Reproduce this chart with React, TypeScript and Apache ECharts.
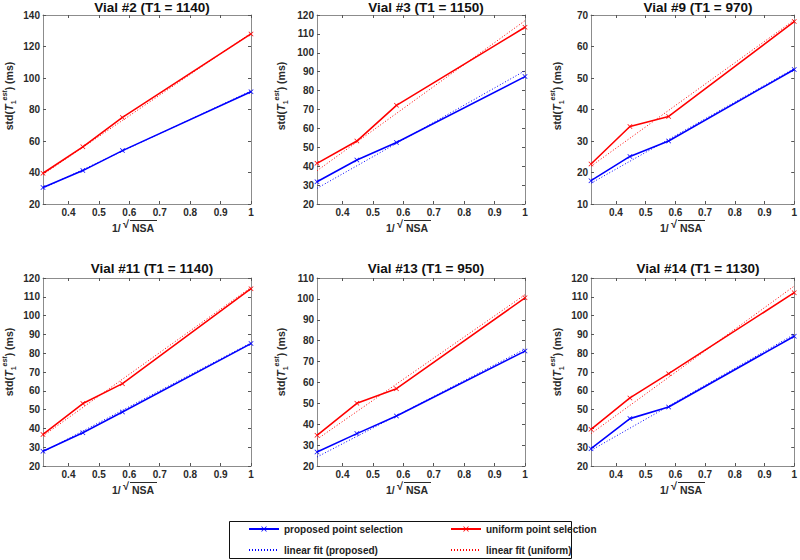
import React, { useEffect, useRef } from 'react';
import * as echarts from 'echarts';

const X = [0.3162, 0.4472, 0.5774, 1];
const TITLES = [
  'Vial #2 (T1 = 1140)',
  'Vial #3 (T1 = 1150)',
  'Vial #9 (T1 = 970)',
  'Vial #11 (T1 = 1140)',
  'Vial #13 (T1 = 950)',
  'Vial #14 (T1 = 1130)',
];
const PROPOSED = [
  [30.5, 41.2, 53.9, 91.3],
  [31.8, 43.3, 52.5, 87.4],
  [17.4, 25.1, 30.0, 52.7],
  [27.8, 37.7, 48.7, 85.1],
  [26.7, 35.5, 43.9, 75.0],
  [29.2, 45.2, 51.4, 89.0],
];
const UNIFORM = [
  [39.5, 56.3, 75.0, 128.0],
  [41.5, 53.3, 72.2, 113.5],
  [22.7, 34.6, 37.8, 67.9],
  [36.8, 53.2, 63.8, 114.3],
  [34.7, 50.0, 57.0, 100.5],
  [39.5, 56.2, 69.1, 112.2],
];
const FIT_PROPOSED = [
  [30.0, 91.8],
  [28.3, 90.5],
  [16.6, 53.0],
  [27.5, 85.5],
  [24.3, 76.0],
  [28.3, 90.0],
];
const FIT_UNIFORM = [
  [38.8, 128.5],
  [37.6, 117.0],
  [22.0, 68.4],
  [36.0, 115.0],
  [32.8, 102.0],
  [37.2, 115.7],
];
const Y_MIN = [20, 20, 10, 20, 20, 20];
const Y_MAX = [140, 120, 70, 120, 110, 120];
const Y_STEP = [20, 10, 10, 10, 10, 10];
const X_TICKS = [0.4, 0.5, 0.6, 0.7, 0.8, 0.9, 1];

const NAME_P = 'proposed point selection';
const NAME_U = 'uniform point selection';
const NAME_FP = 'linear fit (proposed)';
const NAME_FU = 'linear fit (uniform)';

const BLUE = '#0000ff';
const RED = '#ff0000';
const FONT = '"Liberation Sans", Arial, Helvetica, sans-serif';
const AXIS_GRAY = '#8c8c8c';
const TEXT_COLOR = '#2a2a2a';

const COL_LEFT = [43, 317, 591];
const COL_W = 208;
const ROW_TOP = [15, 278];
const ROW_H = [189, 188];
const TITLE_X = [152, 426, 698];
const TITLE_Y = [7, 268];
const YLAB_X = [9, 281, 557];
const YLAB_Y = [96, 362];

const XSYM = 'path://M0,1L1,0L5,4L9,0L10,1L6,5L10,9L9,10L5,6L1,10L0,9L4,5Z';

function buildOption() {
  const grid: any[] = [];
  const xAxis: any[] = [];
  const yAxis: any[] = [];
  const series: any[] = [];
  const graphic: any[] = [];

  for (let i = 0; i < 6; i++) {
    const r = Math.floor(i / 3);
    const c = i % 3;
    const left = COL_LEFT[c];
    const top = ROW_TOP[r];
    const h = ROW_H[r];
    const bottom = top + h;
    grid.push({ left, top, width: COL_W, height: h, containLabel: false, show: false });

    const baseX = {
      type: 'value',
      gridIndex: i,
      min: X[0],
      max: 1,
      splitLine: { show: false },
      axisLine: { show: true, onZero: false, lineStyle: { color: AXIS_GRAY, width: 1 } },
      axisTick: { show: true, inside: true, length: 3, customValues: X_TICKS, lineStyle: { color: '#555' } },
    };
    xAxis.push({
      ...baseX,
      position: 'bottom',
      axisLabel: {
        show: true,
        customValues: X_TICKS,
        formatter: (v: number) => String(v),
        fontSize: 10,
        fontWeight: 'bold',
        fontFamily: FONT,
        color: TEXT_COLOR,
        margin: 3,
      },
    });
    xAxis.push({ ...baseX, position: 'top', axisLabel: { show: false } });

    const baseY = {
      type: 'value',
      gridIndex: i,
      min: Y_MIN[i],
      max: Y_MAX[i],
      interval: Y_STEP[i],
      splitLine: { show: false },
      axisLine: { show: true, onZero: false, lineStyle: { color: AXIS_GRAY, width: 1 } },
      axisTick: { show: true, inside: true, length: 3, lineStyle: { color: '#555' } },
    };
    yAxis.push({
      ...baseY,
      position: 'left',
      axisLabel: {
        show: true,
        fontSize: 10,
        fontWeight: 'bold',
        fontFamily: FONT,
        color: TEXT_COLOR,
        margin: 3,
      },
    });
    yAxis.push({ ...baseY, position: 'right', axisLabel: { show: false } });

    const xi = i * 2;
    series.push({
      name: NAME_FP,
      type: 'line',
      xAxisIndex: xi,
      yAxisIndex: xi,
      data: [[X[0], FIT_PROPOSED[i][0]], [X[3], FIT_PROPOSED[i][1]]],
      symbol: 'none',
      showSymbol: false,
      color: BLUE,
      lineStyle: { color: BLUE, width: 1, type: [1, 2] },
      z: 1,
    });
    series.push({
      name: NAME_FU,
      type: 'line',
      xAxisIndex: xi,
      yAxisIndex: xi,
      data: [[X[0], FIT_UNIFORM[i][0]], [X[3], FIT_UNIFORM[i][1]]],
      symbol: 'none',
      showSymbol: false,
      color: RED,
      lineStyle: { color: RED, width: 1, type: [1, 2] },
      z: 1,
    });
    series.push({
      name: NAME_P,
      type: 'line',
      xAxisIndex: xi,
      yAxisIndex: xi,
      data: X.map((x, j) => [x, PROPOSED[i][j]]),
      symbol: XSYM,
      symbolSize: 5,
      showSymbol: true,
      color: BLUE,
      itemStyle: { color: BLUE },
      lineStyle: { color: BLUE, width: 1.6 },
      z: 3,
    });
    series.push({
      name: NAME_U,
      type: 'line',
      xAxisIndex: xi,
      yAxisIndex: xi,
      data: X.map((x, j) => [x, UNIFORM[i][j]]),
      symbol: XSYM,
      symbolSize: 5,
      showSymbol: true,
      color: RED,
      itemStyle: { color: RED },
      lineStyle: { color: RED, width: 1.6 },
      z: 3,
    });

    // title
    graphic.push({
      type: 'text',
      x: TITLE_X[c],
      y: TITLE_Y[r],
      style: {
        text: TITLES[i],
        align: 'center',
        verticalAlign: 'middle',
        fontSize: 13.5,
        fontWeight: 'bold',
        fontFamily: FONT,
        fill: '#111',
      },
    });

    // y axis label
    graphic.push({
      type: 'text',
      x: YLAB_X[c],
      y: YLAB_Y[r],
      rotation: Math.PI / 2,
      style: {
        text: 'std({it|T}{sub|1}{sup|est}) (ms)',
        align: 'center',
        verticalAlign: 'middle',
        fontSize: 10.5,
        fontWeight: 'bold',
        fontFamily: FONT,
        fill: TEXT_COLOR,
        lineHeight: 16,
        rich: {
          it: { fontSize: 11, fontStyle: 'italic', fontWeight: 'bold', fontFamily: FONT, fill: TEXT_COLOR, lineHeight: 16 },
          sub: { fontSize: 7, fontWeight: 'bold', fontFamily: FONT, fill: TEXT_COLOR, verticalAlign: 'bottom', lineHeight: 16 },
          sup: { fontSize: 7, fontWeight: 'bold', fontStyle: 'italic', fontFamily: FONT, fill: TEXT_COLOR, verticalAlign: 'top', lineHeight: 16 },
        },
      },
    });

    // x axis label: 1/√NSA
    const lx = left;
    graphic.push({
      type: 'text',
      x: lx + 69,
      y: bottom + 24,
      style: { text: '1/', align: 'left', verticalAlign: 'middle', fontSize: 10.5, fontWeight: 'bold', fontFamily: FONT, fill: TEXT_COLOR },
    });
    graphic.push({
      type: 'text',
      x: lx + 80,
      y: bottom + 20,
      style: { text: '√', align: 'left', verticalAlign: 'middle', fontSize: 11, fontWeight: 'bold', fontFamily: FONT, fill: TEXT_COLOR },
    });
    graphic.push({
      type: 'text',
      x: lx + 89,
      y: bottom + 24,
      style: { text: 'NSA', align: 'left', verticalAlign: 'middle', fontSize: 10.5, fontWeight: 'bold', fontFamily: FONT, fill: TEXT_COLOR },
    });
    graphic.push({
      type: 'line',
      shape: { x1: lx + 87, y1: bottom + 16.5, x2: lx + 114, y2: bottom + 16.5 },
      style: { stroke: TEXT_COLOR, lineWidth: 1 },
    });
  }

  // legend box
  graphic.push({
    type: 'rect',
    shape: { x: 229.5, y: 521.5, width: 342, height: 37 },
    style: { fill: 'none', stroke: '#111', lineWidth: 1 },
    z: 0,
  });

  const legendText = { fontSize: 10, fontWeight: 'bold', fontFamily: FONT, color: '#222' };
  const hiddenSym = { opacity: 0, color: 'transparent', borderWidth: 0 };
  const legend = [
    {
      orient: 'vertical',
      left: 248,
      top: 524,
      padding: 0,
      itemWidth: 30,
      itemHeight: 7,
      itemGap: 11,
      data: [NAME_P, { name: NAME_FP, itemStyle: hiddenSym }],
      textStyle: legendText,
      selectedMode: false,
    },
    {
      orient: 'vertical',
      left: 450,
      top: 524,
      padding: 0,
      itemWidth: 30,
      itemHeight: 7,
      itemGap: 11,
      data: [NAME_U, { name: NAME_FU, itemStyle: hiddenSym }],
      textStyle: legendText,
      selectedMode: false,
    },
  ];

  return {
    animation: false,
    backgroundColor: '#ffffff',
    grid,
    xAxis,
    yAxis,
    series,
    legend,
    graphic,
  };
}

export default function App() {
  const ref = useRef<HTMLDivElement>(null);
  useEffect(() => {
    if (!ref.current) return;
    const chart = echarts.init(ref.current, null, { renderer: 'svg' });
    chart.setOption(buildOption() as any);
    return () => chart.dispose();
  }, []);
  return (
    <div
      ref={ref}
      style={{ position: 'absolute', left: 0, top: 0, width: 800, height: 560 }}
    />
  );
}
